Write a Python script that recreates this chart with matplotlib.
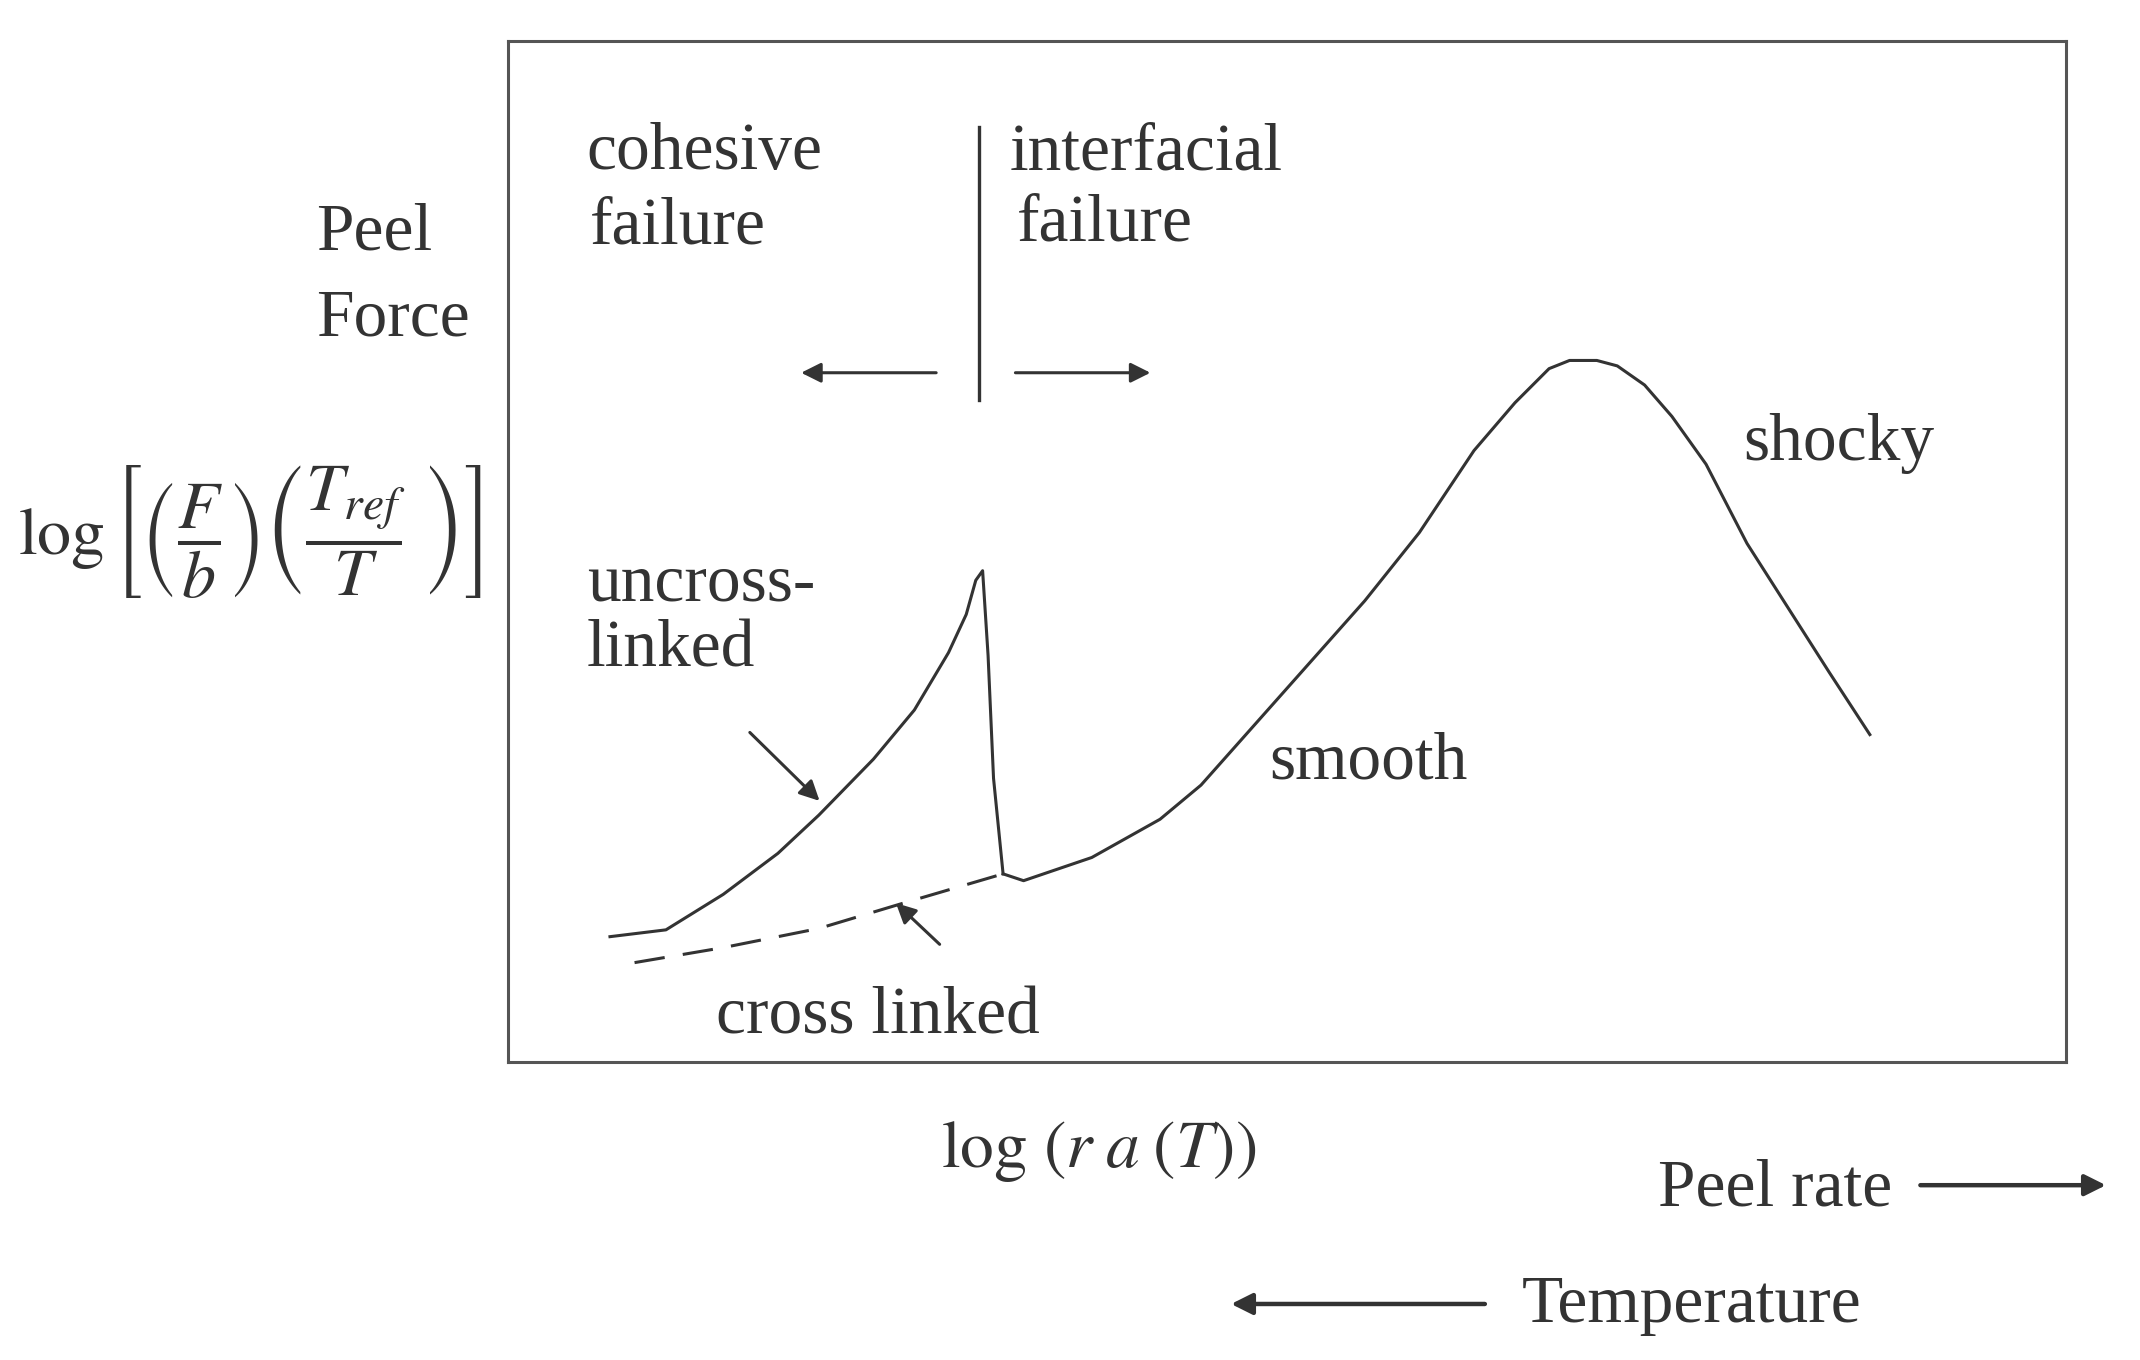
import matplotlib
matplotlib.use("Agg")
import matplotlib.pyplot as plt

plt.rcParams['font.family'] = ['Liberation Serif', 'DejaVu Serif']
plt.rcParams['mathtext.fontset'] = 'stix'

INK = '#333333'

# peel force master curve (schematic, picture units)
uncross_x = [447, 488, 530, 570, 600, 640, 670, 695, 708, 715, 720, 724, 728, 735]
uncross_y = [686, 681, 655, 625, 597, 556, 520, 478, 450, 425, 418, 480, 570, 640]
main_x = [735, 750, 800, 850, 880, 920, 960, 1000, 1040, 1080, 1110, 1135, 1150, 1170,
          1185, 1205, 1225, 1250, 1280, 1310, 1340, 1370]
main_y = [640, 645, 628, 600, 575, 530, 485, 440, 390, 330, 295, 270, 264, 264,
          268, 282, 305, 340, 398, 445, 492, 538]
cross_x = [465, 530, 600, 660, 735]
cross_y = [705, 694, 680, 662, 640]

fig = plt.figure(figsize=(21.4, 13.6), dpi=100)
ax = fig.add_axes([0.2372, 0.2189, 0.9656 - 0.2372, 0.9699 - 0.2189])
ax.set_xlim(372, 1514)
ax.set_ylim(778, 30)
ax.set_xticks([])
ax.set_yticks([])
for s in ax.spines.values():
    s.set_linewidth(2.2)
    s.set_color('#555555')

ax.plot(uncross_x, uncross_y, color=INK, lw=2.2)
ax.plot(main_x, main_y, color=INK, lw=2.2)
ax.plot(cross_x, cross_y, color=INK, lw=2.2, dashes=(10, 6))

# divider between failure modes
ax.plot([717, 717], [93, 293], color=INK, lw=2.4)
arr = dict(arrowstyle='-|>', color=INK, lw=2.2, mutation_scale=30)
ax.annotate('', xy=(585, 273), xytext=(688, 273), arrowprops=arr)
ax.annotate('', xy=(845, 273), xytext=(742, 273), arrowprops=arr)
ax.annotate('', xy=(602, 588), xytext=(548, 535), arrowprops=arr)
ax.annotate('', xy=(655, 660), xytext=(690, 693), arrowprops=arr)

fs = 48.5
txt = dict(color=INK, fontsize=fs, va='center', ha='left')
ax.text(430, 112, 'cohesive', **txt)
ax.text(432, 166, 'failure', **txt)
ax.text(740, 112, 'interfacial', **txt)
ax.text(745, 164, 'failure', **txt)
ax.text(430, 428, 'uncross-', **txt)
ax.text(430, 476, 'linked', **txt)
ax.text(930, 558, 'smooth', **txt)
ax.text(1277, 325, 'shocky', **txt)
ax.text(525, 745, 'cross linked', **txt)

ax.text(232, 171, 'Peel', **txt)
ax.text(232, 234, 'Force', **txt)
ax.text(183, 390, r'$\log\left[\left(\dfrac{F}{b}\right)\left(\dfrac{T_{ref}}{T}\;\right)\right]$',
        color=INK, fontsize=49, ha='center', va='center')

ax.text(805, 843, r'$\log\,(r\;a\;(T))$', color=INK, fontsize=fs, ha='center', va='center')
ax.text(1215, 871, 'Peel rate', **txt)
ax.text(1115, 956, 'Temperature', **txt)

arr_out = dict(arrowstyle='-|>', color=INK, lw=3.2, mutation_scale=32)
ax.annotate('', xy=(1545, 868), xytext=(1405, 868), arrowprops=arr_out, annotation_clip=False)
ax.annotate('', xy=(900, 955), xytext=(1090, 955), arrowprops=arr_out, annotation_clip=False)

fig.savefig('out.png', dpi=100)
